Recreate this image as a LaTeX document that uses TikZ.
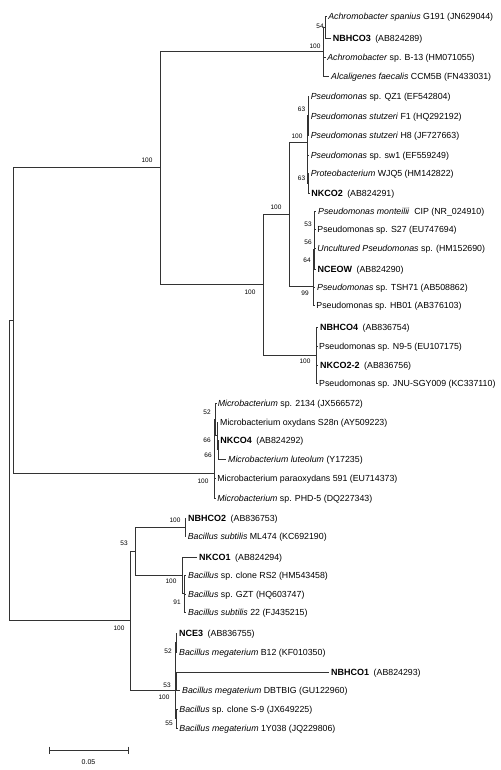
\documentclass[tikz,border=0pt]{standalone}
\usepackage{fontspec}
\setmainfont{Liberation Sans}
\newcommand{\bn}[1]{{\fontsize{9}{10}\selectfont\bfseries #1}\hspace{4.5pt}}
\begin{document}
\begin{tikzpicture}[x=1pt,y=-1pt,
  br/.style={draw=black!80,line width=0.7pt},
  leaf/.style={anchor=west,inner xsep=1.6pt,inner ysep=0pt,text height=6.2pt,text depth=0pt,font=\fontsize{8.8}{10}\selectfont},
  bs/.style={inner sep=0pt,font=\fontsize{6.5}{7}\selectfont},
  sc/.style={inner sep=0pt,font=\fontsize{7}{8}\selectfont}]
\useasboundingbox (0,0) rectangle (500,770);
% ---------- internal nodes ----------
\coordinate (root) at (9,470.6);
\coordinate (U) at (13,320.6);
\coordinate (P) at (160,167.75);
\coordinate (Ach) at (323,51.5);
\coordinate (A54) at (325.5,27);
\coordinate (Ps) at (263,284.7);
\coordinate (Ps1) at (289,214.4);
\coordinate (St) at (307,142.25);
\coordinate (n63a) at (308,115.5);
\coordinate (X) at (307.6,169);
\coordinate (n63b) at (308.2,183);
\coordinate (n99) at (313,286.5);
\coordinate (n64) at (313.6,268);
\coordinate (n56) at (314.2,249);
\coordinate (n53) at (314.8,229.5);
\coordinate (Ps4) at (316.5,355);
\coordinate (Mic) at (214,473.4);
\coordinate (Z) at (214.8,448.7);
\coordinate (Z1) at (215.5,419.4);
\coordinate (W) at (217,435.75);
\coordinate (n66b) at (218,449.5);
\coordinate (Bac) at (130.5,620.5);
\coordinate (b53) at (135.5,551);
\coordinate (Sub) at (185,527);
\coordinate (NK) at (182,575);
\coordinate (n91) at (184.8,593.5);
\coordinate (Meg) at (175,690.1);
\coordinate (X2) at (175.6,661.75);
\coordinate (n52) at (176.2,642.5);
\coordinate (n53b) at (176.8,681);
\coordinate (n55) at (176.8,718.5);
% ---------- leaves ----------
\node[leaf] (l1) at (326.5,16) {\textit{Achromobacter spanius} G191 (JN629044)};
\node[leaf] (l2) at (331,38) {\bn{NBHCO3}(AB824289)};
\node[leaf] (l3) at (325.5,57) {\textit{Achromobacter} sp. B-13 (HM071055)};
\node[leaf] (l4) at (329.4,76) {\textit{Alcaligenes faecalis} CCM5B (FN433031)};
\node[leaf] (l5) at (309,96) {\textit{Pseudomonas} sp. QZ1 (EF542804)};
\node[leaf] (l6) at (309,116) {\textit{Pseudomonas stutzeri} F1 (HQ292192)};
\node[leaf] (l7) at (309,135) {\textit{Pseudomonas stutzeri} H8 (JF727663)};
\node[leaf] (l8) at (309,155) {\textit{Pseudomonas} sp. sw1 (EF559249)};
\node[leaf] (l9) at (309,173) {\textit{Proteobacterium} WJQ5 (HM142822)};
\node[leaf] (l10) at (309.5,193) {\bn{NKCO2}(AB824291)};
\node[leaf] (l11) at (316.4,211) {\textit{Pseudomonas monteilii}\ \ CIP (NR\_024910)};
\node[leaf] (l12) at (315.6,229) {Pseudomonas sp. S27 (EU747694)};
\node[leaf] (l13) at (315.6,248) {\textit{Uncultured Pseudomonas} sp. (HM152690)};
\node[leaf] (l14) at (315.8,269) {\bn{NCEOW}(AB824290)};
\node[leaf] (l15) at (315.4,287) {\textit{Pseudomonas} sp. TSH71 (AB508862)};
\node[leaf] (l16) at (314.6,305) {Pseudomonas sp. HB01 (AB376103)};
\node[leaf] (l17) at (318.4,327) {\bn{NBHCO4}(AB836754)};
\node[leaf] (l18) at (317.4,346) {Pseudomonas sp. N9-5 (EU107175)};
\node[leaf] (l19) at (318.4,365) {\bn{NKCO2-2}(AB836756)};
\node[leaf] (l20) at (317.4,383) {Pseudomonas sp. JNU-SGY009 (KC337110)};
\node[leaf] (l21) at (216,403) {\textit{Microbacterium} sp. 2134 (JX566572)};
\node[leaf] (l22) at (218.4,422) {Microbacterium oxydans S28n (AY509223)};
\node[leaf] (l23) at (218.6,440) {\bn{NKCO4}(AB824292)};
\node[leaf] (l24) at (226.4,459) {\textit{Microbacterium luteolum} (Y17235)};
\node[leaf] (l25) at (215.6,478) {Microbacterium paraoxydans 591 (EU714373)};
\node[leaf] (l26) at (215.6,498) {\textit{Microbacterium} sp. PHD-5 (DQ227343)};
\node[leaf] (l27) at (186.4,518) {\bn{NBHCO2}(AB836753)};
\node[leaf] (l28) at (186,536) {\textit{Bacillus subtilis} ML474 (KC692190)};
\node[leaf] (l29) at (197.4,557) {\bn{NKCO1}(AB824294)};
\node[leaf] (l30) at (186.4,575) {\textit{Bacillus} sp. clone RS2 (HM543458)};
\node[leaf] (l31) at (186.4,594) {\textit{Bacillus} sp. GZT (HQ603747)};
\node[leaf] (l32) at (186.4,612) {\textit{Bacillus subtilis} 22 (FJ435215)};
\node[leaf] (l33) at (177.4,633) {\bn{NCE3}(AB836755)};
\node[leaf] (l34) at (177.4,652) {\textit{Bacillus megaterium} B12 (KF010350)};
\node[leaf] (l35) at (329.4,672) {\bn{NBHCO1}(AB824293)};
\node[leaf] (l36) at (180.4,690) {\textit{Bacillus megaterium} DBTBIG (GU122960)};
\node[leaf] (l37) at (177.6,709) {\textit{Bacillus} sp. clone S-9 (JX649225)};
\node[leaf] (l38) at (177.6,728) {\textit{Bacillus megaterium} 1Y038 (JQ229806)};
% ---------- branches ----------
\draw[br] (root) |- (U);
\draw[br] (root) |- (Bac);
\draw[br] (U) |- (P);
\draw[br] (U) |- (Mic);
\draw[br] (P) |- (Ach);
\draw[br] (P) |- (Ps);
\draw[br] (Ach) |- (A54);
\draw[br] (A54) |- (l1.west);
\draw[br] (A54) |- (l2.west);
\draw[br] (Ach) |- (l3.west);
\draw[br] (Ach) |- (l4.west);
\draw[br] (Ps) |- (Ps1);
\draw[br] (Ps) |- (Ps4);
\draw[br] (Ps1) |- (St);
\draw[br] (Ps1) |- (n99);
\draw[br] (St) |- (n63a);
\draw[br] (St) |- (X);
\draw[br] (n63a) |- (l5.west);
\draw[br] (n63a) |- (l6.west);
\draw[br] (n63a) |- (l7.west);
\draw[br] (X) |- (l8.west);
\draw[br] (X) |- (n63b);
\draw[br] (n63b) |- (l9.west);
\draw[br] (n63b) |- (l10.west);
\draw[br] (n99) |- (n64);
\draw[br] (n99) |- (l16.west);
\draw[br] (n64) |- (n56);
\draw[br] (n64) |- (l15.west);
\draw[br] (n56) |- (n53);
\draw[br] (n56) |- (l14.west);
\draw[br] (n53) |- (l11.west);
\draw[br] (n53) |- (l12.west);
\draw[br] (n53) |- (l13.west);
\draw[br] (Ps4) |- (l17.west);
\draw[br] (Ps4) |- (l18.west);
\draw[br] (Ps4) |- (l19.west);
\draw[br] (Ps4) |- (l20.west);
\draw[br] (Mic) |- (Z);
\draw[br] (Mic) |- (l26.west);
\draw[br] (Z) |- (Z1);
\draw[br] (Z) |- (l25.west);
\draw[br] (Z1) |- (l21.west);
\draw[br] (Z1) |- (W);
\draw[br] (W) |- (l22.west);
\draw[br] (W) |- (n66b);
\draw[br] (n66b) |- (l23.west);
\draw[br] (n66b) |- (l24.west);
\draw[br] (Bac) |- (b53);
\draw[br] (Bac) |- (Meg);
\draw[br] (b53) |- (Sub);
\draw[br] (b53) |- (NK);
\draw[br] (Sub) |- (l27.west);
\draw[br] (Sub) |- (l28.west);
\draw[br] (NK) |- (l29.west);
\draw[br] (NK) |- (n91);
\draw[br] (n91) |- (l30.west);
\draw[br] (n91) |- (l31.west);
\draw[br] (n91) |- (l32.west);
\draw[br] (Meg) |- (X2);
\draw[br] (Meg) |- (n55);
\draw[br] (X2) |- (n52);
\draw[br] (X2) |- (n53b);
\draw[br] (n52) |- (l33.west);
\draw[br] (n52) |- (l34.west);
\draw[br] (n53b) |- (l35.west);
\draw[br] (n53b) |- (l36.west);
\draw[br] (n55) |- (l37.west);
\draw[br] (n55) |- (l38.west);
% ---------- bootstrap values ----------
\node[bs] (bsA54) at (320,26) {54};
\node[bs] (bsAch) at (315,46) {100};
\node[bs] (bsP) at (147,160) {100};
\node[bs] (bsSt) at (297,136) {100};
\node[bs] (bs63a) at (301.5,109) {63};
\node[bs] (bs63b) at (301.5,178) {63};
\node[bs] (bsPs1) at (276,207) {100};
\node[bs] (bs53) at (308,224.5) {53};
\node[bs] (bs56) at (308,242) {56};
\node[bs] (bs64) at (307,260) {64};
\node[bs] (bs99) at (305,293) {99};
\node[bs] (bsPs) at (250,292) {100};
\node[bs] (bsPs4) at (305,361) {100};
\node[bs] (bsZ1) at (207,412) {52};
\node[bs] (bsW) at (207,440) {66};
\node[bs] (bs66b) at (208,455) {66};
\node[bs] (bsMic) at (203,481) {100};
\node[bs] (bsSub) at (175,520) {100};
\node[bs] (bsb53) at (124,543) {53};
\node[bs] (bsNK) at (171,581) {100};
\node[bs] (bs91) at (177,602) {91};
\node[bs] (bsBac) at (119,628) {100};
\node[bs] (bs52) at (168,651) {52};
\node[bs] (bs53b) at (167,685) {53};
\node[bs] (bsMeg) at (164,697) {100};
\node[bs] (bs55) at (169,723) {55};
% ---------- scale bar ----------
\coordinate (sb1) at (49,750);
\coordinate (sb2) at (128,750);
\draw[br] (sb1) -- (sb2);
\draw[br] ([yshift=3.5pt]sb1) -- ([yshift=-3.5pt]sb1);
\draw[br] ([yshift=3.5pt]sb2) -- ([yshift=-3.5pt]sb2);
\node[sc] (sbl) at (88.5,762) {0.05};
\end{tikzpicture}
\end{document}
